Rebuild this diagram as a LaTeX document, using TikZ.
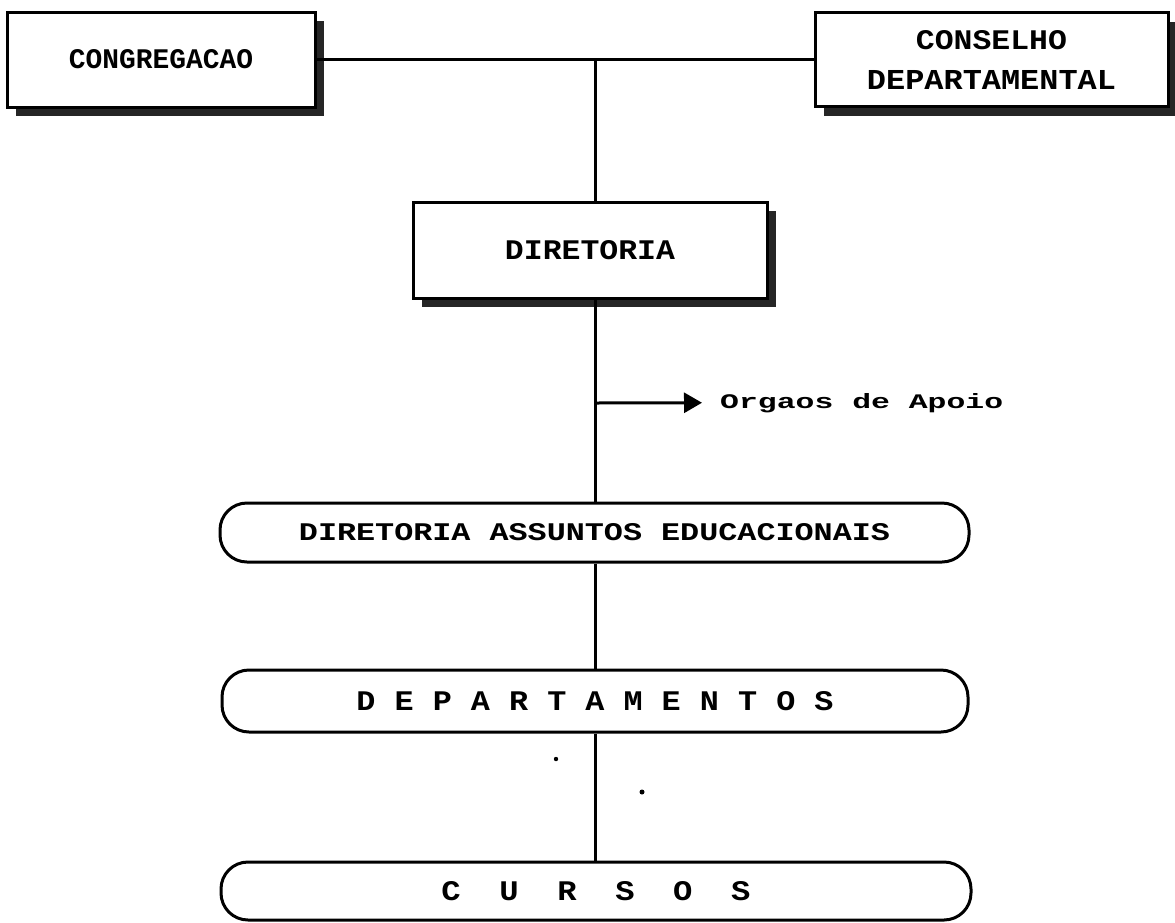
\documentclass[tikz,border=0pt]{standalone}
\usepackage{fontspec}
\setmainfont{Liberation Mono}
\usetikzlibrary{arrows.meta,shadows}
\newcommand{\fitt}[3]{\resizebox{#1}{#2}{\bfseries #3}}
\tikzset{
  conn/.style={line width=3pt},
  shadowbox/.style={draw, line width=3pt, fill=white, rectangle, inner sep=0pt,
    drop shadow={shadow xshift=9pt, shadow yshift=-9pt, fill=black!85, opacity=1}},
  pill/.style={draw, line width=3pt, fill=white, rectangle, rounded corners=27pt, inner sep=0pt},
  apoiotext/.style={inner sep=0pt, anchor=base west},
  speck/.style={fill=black}
}
\begin{document}
\begin{tikzpicture}[x=1pt,y=-1pt]
\useasboundingbox (0,0) rectangle (1175,922);
\fill[white] (0,0) rectangle (1175,922);

\node[shadowbox, minimum width=308pt, minimum height=95pt] (cong) at (161,59.5)
  {\fitt{184pt}{19pt}{CONGREGACAO}};
\node[shadowbox, minimum width=353pt, minimum height=94pt, align=center,
  font=\fontsize{10pt}{40pt}\selectfont] (cons) at (991.5,59.5)
  {\fitt{151pt}{19pt}{CONSELHO}\\\fitt{249pt}{19pt}{DEPARTAMENTAL}};
\node[shadowbox, minimum width=354pt, minimum height=96pt] (dir) at (590,250)
  {\fitt{170pt}{19pt}{DIRETORIA}};

\node[pill, minimum width=749pt, minimum height=59pt] (dae) at (594.5,532.5)
  {\fitt{591pt}{17pt}{DIRETORIA ASSUNTOS EDUCACIONAIS}};
\node[pill, minimum width=746pt, minimum height=62pt] (dept) at (595,701)
  {\fitt{477pt}{19pt}{D E P A R T A M E N T O S}};
\node[pill, minimum width=750pt, minimum height=58pt] (cursos) at (596,891)
  {\fitt{309pt}{19pt}{C~~U~~R~~S~~O~~S}};

\node[apoiotext] (apoio) at (720,408) {\fitt{283pt}{15pt}{Orgaos de Apoio}};

\coordinate (j) at (595,59.5);
\coordinate (br) at (595,403);

\draw[conn] (cong.east) -- (cons.west);
\draw[conn] (j) -- (j |- dir.north);
\draw[conn] (dir.south -| j) -- (dae.north -| j);
\draw[conn, -{Triangle[length=18pt,width=20pt]}, shorten >=18pt] (br) -- (apoio.west);
\draw[conn] (dae.south -| j) -- (dept.north -| j);
\draw[conn] (dept.south -| j) -- (cursos.north -| j);

\fill[speck] (556,759) circle (2.2pt);
\fill[speck] (642,792) circle (2.5pt);
\end{tikzpicture}
\end{document}
